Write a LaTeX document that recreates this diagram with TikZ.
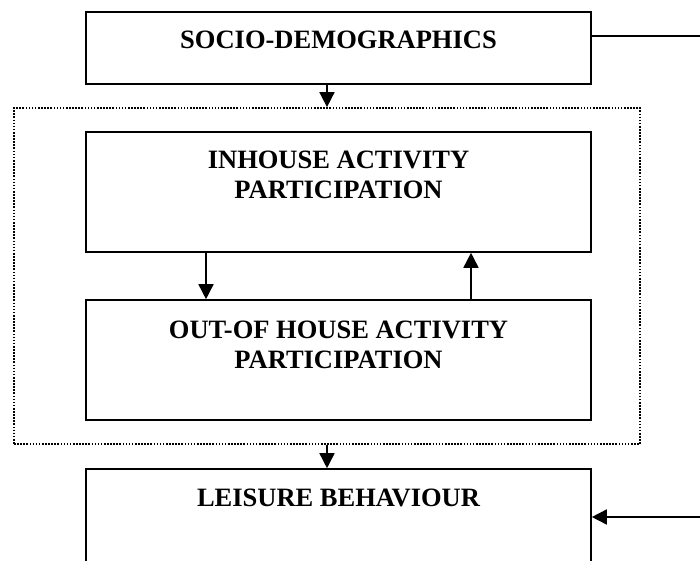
\documentclass[tikz,border=0pt]{standalone}
\usepackage{fontspec}
\setmainfont{Liberation Serif}
\usepackage{tikz}
\usetikzlibrary{shapes, arrows, positioning, arrows.meta}

\begin{document}
\begin{tikzpicture}[x=1pt, y=-1pt,
    every node/.style = {align=center, inner sep=0pt,
        font=\fontsize{26.5}{30}\selectfont\bfseries},
    box/.style = {draw, line width=1.6pt, minimum width=505pt},
    group/.style = {draw, line width=1.7pt, dash pattern=on 1.6pt off 1.5pt,
        minimum width=626pt, minimum height=336pt},
    title/.style = {anchor=north},
    arr/.style = {line width=1.6pt, -{Triangle[length=15pt, width=15pt]}}]
    \path[use as bounding box, clip] (0,0) rectangle (700,561);
    \node[box, minimum height=72pt] (socio) at (338.5,48) {};
    \node[group] (grp) at (327,276) {};
    \node[box, minimum height=120pt] (inh) at (338.5,192) {};
    \node[box, minimum height=120pt] (out) at (338.5,360) {};
    \node[box, minimum height=120pt] (leis) at (338.5,529) {};
    \node[title, below=20pt of socio.north] (socio-t) {SOCIO-DEMOGRAPHICS};
    \node[title, below=20pt of inh.north] (inh-t) {INHOUSE ACTIVITY\\PARTICIPATION};
    \node[title, below=22pt of out.north] (out-t) {OUT-OF HOUSE ACTIVITY\\PARTICIPATION};
    \node[title, below=21pt of leis.north] (leis-t) {LEISURE BEHAVIOUR};
    \coordinate (in-r) at (700,36);
    \coordinate (out-r) at (700,517);
    \draw[arr] (grp.north |- socio.south) -- (grp.north);
    \draw[arr] ([xshift=-132.5pt]inh.south) -- ([xshift=-132.5pt]out.north);
    \draw[arr] ([xshift=132.5pt]out.north) -- ([xshift=132.5pt]inh.south);
    \draw[arr] (grp.south) -- (grp.south |- leis.north);
    \draw[line width=1.6pt] (in-r -| socio.east) -- (in-r);
    \draw[arr] (out-r) -- (out-r -| leis.east);
\end{tikzpicture}
\end{document}
